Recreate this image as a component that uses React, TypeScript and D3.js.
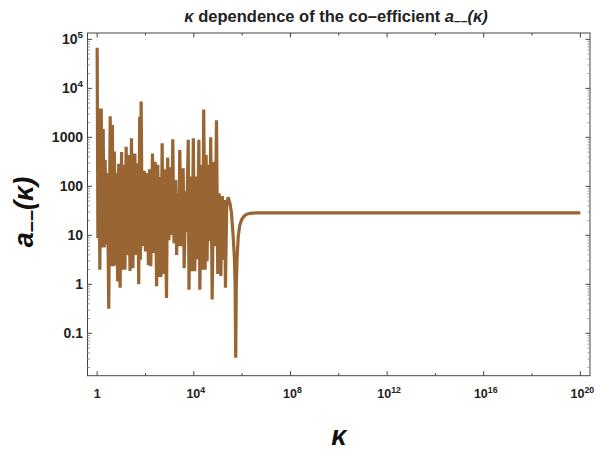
import React from "react";
import * as d3 from "d3";

// log10(kappa) and log10(a) (alternating peaks / troughs in the noisy part)
const logKappa = [
  0.00, 0.03, 0.08, 0.11, 0.17, 0.21, 0.25, 0.29, 0.33, 0.37, 0.42, 0.48, 0.54, 0.58, 0.63, 0.67,
  0.71, 0.76, 0.80, 0.85, 0.89, 0.95, 1.01, 1.06, 1.11, 1.15, 1.20, 1.26, 1.30, 1.36, 1.42, 1.48,
  1.56, 1.62, 1.68, 1.72, 1.76, 1.79, 1.82, 1.87, 1.95, 2.00, 2.07, 2.12, 2.17, 2.22, 2.29, 2.34,
  2.40, 2.46, 2.51, 2.55, 2.60, 2.64, 2.69, 2.74, 2.80, 2.87, 2.92, 2.97, 3.03, 3.08, 3.13, 3.18,
  3.25, 3.29, 3.34, 3.37, 3.42, 3.48, 3.56, 3.60, 3.67, 3.70, 3.77, 3.80, 3.87, 3.93, 3.98, 4.04,
  4.10, 4.15, 4.21, 4.25, 4.32, 4.37, 4.41, 4.47, 4.51, 4.55, 4.60, 4.65, 4.70, 4.76, 4.83, 4.88,
  4.94, 4.99, 5.05, 5.12, 5.18, 5.24, 5.28, 5.31, 5.36,
  5.42, 5.50, 5.56, 5.63, 5.68, 5.71, 5.735, 5.76, 5.79, 5.84, 5.90, 5.98, 6.08, 6.19, 6.35, 6.60,
  8.0, 12.0, 16.0, 20.0,
];
const logA = [
  4.83, 0.94, 3.59, 0.30, 3.59, 0.75, 3.17, 0.75, 2.54, 0.81, 2.27, -0.50, 3.43, 0.37, 3.25, 0.37,
  2.71, 0.39, 2.27, 0.06, 2.46, -0.07, 2.70, 0.30, 2.44, 0.30, 2.81, 0.60, 2.64, 0.27, 2.98, 0.33,
  2.67, 0.60, 2.47, 0.00, 3.42, 0.50, 3.73, 0.78, 2.32, 0.67, 2.27, 0.39, 2.35, 0.37, 2.67, 0.64,
  2.50, -0.04, 2.44, 0.15, 2.19, 0.15, 2.88, 0.21, 2.35, -0.28, 2.59, 0.90, 2.39, 1.01, 2.96, 0.84,
  2.13, 0.60, 1.86, 0.78, 2.74, 0.78, 2.37, 0.33, 1.90, 1.07, 2.95, -0.11, 2.20, 0.27, 2.98, 0.27,
  2.20, 0.51, 2.95, -0.11, 2.44, 0.30, 3.57, 0.30, 2.64, 0.47, 2.44, 0.88, 3.00, -0.31, 2.50, 0.78,
  3.35, 0.21, 1.86, 0.17, 1.80, 0.50, 1.72, -0.07, 1.59,
  1.78, 1.65, 1.45, 0.98, 0.55, 0.00, -1.50, 0.00, 0.50, 0.98, 1.20, 1.32, 1.39, 1.43, 1.45, 1.46,
  1.46, 1.46, 1.46, 1.46,
];

const xTickExps = [0, 4, 8, 12, 16, 20];
const xMinorExps = [2, 6, 10, 14, 18];
const yTickExps = [5, 4, 3, 2, 1, 0, -1];
const yTickLabels = ["10|5", "10|4", "1000", "100", "10", "1", "0.1"];
const xTickLabels = ["1", "10|4", "10|8", "10|12", "10|16", "10|20"];

const W = 607;
const H = 453;
const L = 87.5, R = 590, T = 33, B = 375.7;
const FONT = "'Liberation Sans', Arial, sans-serif";
const COLOR = "#996633";
const FRAME = "#444";

function Label({ text, x, y, anchor, size }: { text: string; x: number; y: number; anchor: string; size: number }) {
  const parts = text.split("|");
  return (
    <text x={x} y={y} textAnchor={anchor} fontFamily={FONT} fontWeight="bold" fontSize={size} fill="#222">
      {parts[0]}
      {parts.length > 1 && (
        <tspan fontSize={size * 0.7} dy={-size * 0.42}>
          {parts[1]}
        </tspan>
      )}
    </text>
  );
}

export default function App() {
  const x = d3.scaleLog().domain([Math.pow(10, -0.4), Math.pow(10, 20.4)]).range([L, R]);
  const y = d3.scaleLog().domain([Math.pow(10, -1.865), Math.pow(10, 5.13)]).range([B, T]);

  const pts: [number, number][] = logKappa.map((k, i) => [Math.pow(10, k), Math.pow(10, logA[i])]);
  const line = d3
    .line<[number, number]>()
    .x((d) => x(d[0]))
    .y((d) => y(d[1]));

  const yMinor: number[] = [];
  for (let e = -2; e <= 5; e++) {
    for (let m = 2; m <= 9; m++) {
      const v = m * Math.pow(10, e);
      const py = y(v);
      if (py >= T && py <= B) yMinor.push(v);
    }
  }

  return (
    <svg width={W} height={H} style={{ position: "absolute", left: 0, top: 0 }}>
      <rect width={W} height={H} fill="#fff" />
      <path d={line(pts) || ""} fill="none" stroke={COLOR} strokeWidth={3.2} strokeLinejoin="miter" strokeMiterlimit={2} />
      <rect x={L} y={T} width={R - L} height={B - T} fill="none" stroke={FRAME} strokeWidth={1} />
      {xTickExps.map((e) => {
        const px = x(Math.pow(10, e));
        return (
          <g key={"xt" + e}>
            <line x1={px} x2={px} y1={B} y2={B - 4.5} stroke={FRAME} />
            <line x1={px} x2={px} y1={T} y2={T + 4.5} stroke={FRAME} />
          </g>
        );
      })}
      {xMinorExps.map((e) => {
        const px = x(Math.pow(10, e));
        return (
          <g key={"xm" + e}>
            <line x1={px} x2={px} y1={B} y2={B - 2.5} stroke={FRAME} />
            <line x1={px} x2={px} y1={T} y2={T + 2.5} stroke={FRAME} />
          </g>
        );
      })}
      {yTickExps.map((e) => {
        const py = y(Math.pow(10, e));
        return (
          <g key={"yt" + e}>
            <line x1={L} x2={L + 4.5} y1={py} y2={py} stroke={FRAME} />
            <line x1={R} x2={R - 4.5} y1={py} y2={py} stroke={FRAME} />
          </g>
        );
      })}
      {yMinor.map((v, i) => {
        const py = y(v);
        return (
          <g key={"ym" + i}>
            <line x1={L} x2={L + 2.5} y1={py} y2={py} stroke="#999" />
            <line x1={R} x2={R - 2.5} y1={py} y2={py} stroke="#999" />
          </g>
        );
      })}
      {xTickExps.map((e, i) => (
        <Label key={"xl" + e} text={xTickLabels[i]} x={x(Math.pow(10, e)) + (i === 0 ? 0 : 2)} y={398} anchor="middle" size={12.5} />
      ))}
      {yTickExps.map((e, i) => (
        <Label key={"yl" + e} text={yTickLabels[i]} x={83} y={y(Math.pow(10, e)) + 5} anchor="end" size={14} />
      ))}
      <text x={336} y={22} textAnchor="middle" fontFamily={FONT} fontWeight="bold" fontSize={16.5} fill="#222">
        <tspan fontStyle="italic">κ</tspan> dependence of the co–efficient <tspan fontStyle="italic">a</tspan>
        <tspan fontStyle="italic" fontSize={12} dy={3}>––</tspan>
        <tspan fontStyle="italic" dy={-3}>(κ)</tspan>
      </text>
      <text
        transform="translate(33,212) rotate(-90)"
        textAnchor="middle"
        fontFamily={FONT}
        fontWeight="bold"
        fontStyle="italic"
        fontSize={27}
        fill="#111"
      >
        a
        <tspan fontSize={20} dy={4}>––</tspan>
        <tspan dy={-4}>(κ)</tspan>
      </text>
      <text x={339} y={445} textAnchor="middle" fontFamily={FONT} fontWeight="bold" fontStyle="italic" fontSize={27} fill="#111">
        κ
      </text>
    </svg>
  );
}
